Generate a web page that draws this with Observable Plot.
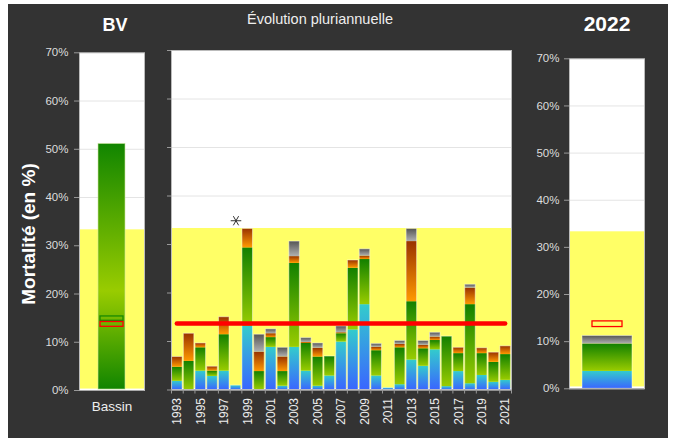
<!DOCTYPE html>
<html><head><meta charset="utf-8">
<script src="https://cdn.jsdelivr.net/npm/d3@7"></script>
<script src="https://cdn.jsdelivr.net/npm/@observablehq/plot@0.6"></script>
<style>
html,body{margin:0;padding:0;background:#fff;}
body{font-family:"Liberation Sans",Arial,Helvetica,sans-serif;}
#wrap{position:relative;width:675px;height:439px;overflow:hidden;background:#fff;}
#bg{position:absolute;left:8px;top:4px;width:660px;height:434px;background:#333;}
.panel{position:absolute;top:0;}
.title{position:absolute;color:#fff;text-align:center;line-height:1;white-space:nowrap;}
#ylab{position:absolute;color:#fff;font-weight:bold;font-size:19px;line-height:1;white-space:nowrap;transform:translate(-50%,-50%) rotate(-90deg);left:28px;top:234px;}
</style></head><body>
<div id="wrap">
  <div id="bg"></div>
  <div class="title" style="left:75px;width:80px;top:16px;font-size:18px;font-weight:bold">BV</div>
  <div class="title" style="left:220px;width:200px;top:12px;font-size:14.5px;color:#eee">Évolution pluriannuelle</div>
  <div class="title" style="left:567px;width:80px;top:13px;font-size:21px;font-weight:bold">2022</div>
  <div id="ylab">Mortalité (en %)</div>
  <div class="panel" id="pBV" style="left:0px"></div>
  <div class="panel" id="pMid" style="left:160px"></div>
  <div class="panel" id="p2022" style="left:522px"></div>
</div>
<script>
// ---- Data ----
const years = [1993,1994,1995,1996,1997,1998,1999,2000,2001,2002,2003,2004,2005,2006,2007,2008,2009,2010,2011,2012,2013,2014,2015,2016,2017,2018,2019,2020,2021];
const blue   = [1.8,0.0,3.9,2.8,3.9,0.9,13.1,0.0,8.8,0.8,8.8,3.9,0.8,2.9,9.9,12.4,17.6,2.9,0.4,1.1,6.2,4.9,8.3,0.7,3.8,1.3,3.0,1.6,2.0];
const green  = [2.9,5.9,4.8,1.1,7.5,0.0,16.2,3.8,2.0,3.0,17.3,5.7,6.0,4.0,1.7,12.7,9.3,5.2,0.0,7.6,12.0,3.6,1.9,10.3,3.7,16.3,4.5,4.1,5.3];
const orange = [2.1,5.7,0.9,0.9,3.6,0.0,3.9,4.0,0.8,3.0,1.4,0.2,1.8,0.0,0.2,1.6,0.7,0.7,0.0,0.7,12.4,0.7,0.7,0.0,1.2,3.4,1.1,2.0,1.7];
const gray   = [0.0,0.0,0.0,0.0,0.0,0.0,0.0,3.6,0.9,1.9,3.1,0.9,1.0,0.0,1.3,0.0,1.4,0.7,0.0,0.7,2.6,0.9,0.9,0.0,0.0,0.7,0.0,0.0,0.0];
const cats = ["bleu","vert","orange","gris"];
const labelYears = [1993,1995,1997,1999,2001,2003,2005,2007,2009,2011,2013,2015,2017,2019,2021];
const yTicks = [0,10,20,30,40,50,60,70];
const gridTicks = [10,20,30,40,50,60];
const seuil = 33.3;          // zone jaune
const moyenne = 13.7;        // ligne rouge
const asterisk = [{year: 1998, value: 34.9}];
const bvLabel = "Bassin";
const bvTotal = 51.1;
const bvGreenMark = 14.9;
const bvRedMark = 13.7;
const label2022 = "2022";
const v2022 = [3.7, 5.8, 0.0, 1.7];

// tables built from the arrays
const series = [blue, green, orange, gray];
const table = years.flatMap((yr, i) => cats.map((c, j) => ({year: yr, cat: c, value: series[j][i]})));
const totals = years.map((yr, i) => ({year: yr, total: series.reduce((s, a) => s + a[i], 0)}));
const bounds = years.map(y => y - 0.5).concat([years[years.length - 1] + 0.5]);
const table2022 = cats.map((c, j) => ({x: label2022, cat: c, value: v2022[j]}));

const FONT = '"Liberation Sans",Arial,Helvetica,sans-serif';
const gradStops = {
  bleu:   [["0%", "#3a66ff"], ["100%", "#33cccc"]],
  vert:   [["0%", "#99cc00"], ["100%", "#128000"]],
  orange: [["0%", "#ff9900"], ["100%", "#993300"]],
  gris:   [["0%", "#b0b0b0"], ["100%", "#555555"]],
  bv:     [["0%", "#118500"], ["40%", "#99cc00"], ["100%", "#118500"]]
};
function addDefs(svg, prefix) {
  const defs = d3.select(svg).insert("defs", ":first-child");
  for (const [k, stops] of Object.entries(gradStops)) {
    const g = defs.append("linearGradient").attr("id", prefix + k)
      .attr("x1", 0).attr("y1", 1).attr("x2", 0).attr("y2", 0);
    for (const [o, c] of stops) g.append("stop").attr("offset", o).attr("stop-color", c);
  }
  return svg;
}
const colorFor = prefix => ({domain: cats, range: cats.map(c => `url(#${prefix}${c})`)});
const baseStyle = {background: "transparent", fontFamily: FONT, color: "#ddd", overflow: "visible"};

// ---- BV panel ----
const bv = Plot.plot({
  width: 160, height: 439,
  marginLeft: 79, marginRight: 16, marginTop: 52.3, marginBottom: 49,
  style: baseStyle,
  x: {domain: [bvLabel], padding: 0.413},
  y: {domain: [0, 70]},
  marks: [
    Plot.frame({fill: "white", stroke: "none"}),
    Plot.gridY(gridTicks, {stroke: "#e4e4e4", strokeOpacity: 1}),
    Plot.rect([seuil], {y1: 0.3, y2: d => d, fill: "#ffff66"}),
    Plot.barY([bvTotal], {x: () => bvLabel, y1: 0.2, y2: d => d, fill: "url(#b-bv)", stroke: "#cfe6a0", strokeOpacity: 0.6}),
    Plot.barY([bvGreenMark], {x: () => bvLabel, y1: d => d - 0.45, y2: d => d + 0.45, insetLeft: 2, insetRight: 2, fill: "none", stroke: "#1a8a00", strokeWidth: 1.3}),
    Plot.barY([bvRedMark], {x: () => bvLabel, y1: d => d - 0.5, y2: d => d + 0.5, insetLeft: 2, insetRight: 2, fill: "none", stroke: "#ff0000", strokeWidth: 1.3}),
    Plot.frame({stroke: "#bbbbbb", fill: "none"}),
    Plot.ruleY([0], {stroke: "#aaaaaa"}),
    Plot.axisY(yTicks, {tickSize: 5, tickPadding: 6, tickFormat: d => d + "%", fontSize: 11.5, fill: "#dddddd", stroke: "#999999", label: null}),
    Plot.axisX([bvLabel], {tickSize: 0, tickPadding: 11, fontSize: 13.5, fill: "#eeeeee", label: null})
  ]
});
document.getElementById("pBV").appendChild(addDefs(bv, "b-"));

// ---- Multi-year panel ----
const mid = Plot.plot({
  width: 362, height: 439,
  marginLeft: 11, marginRight: 11, marginTop: 50, marginBottom: 49.5,
  style: baseStyle,
  x: {domain: [years[0] - 0.5, years[years.length - 1] + 0.5]},
  y: {domain: [0, 70]},
  color: colorFor("m-"),
  marks: [
    Plot.frame({fill: "white", stroke: "none"}),
    Plot.gridY(gridTicks, {stroke: "#e4e4e4", strokeOpacity: 1}),
    Plot.rect([seuil], {y1: 0.3, y2: d => d, fill: "#ffff66"}),
    Plot.rectY(table, Plot.stackY({x1: d => d.year - 0.5, x2: d => d.year + 0.5, y: "value", fill: "cat", insetLeft: 0.6, insetRight: 0.6})),
    Plot.rectY(totals, {x1: d => d.year - 0.5, x2: d => d.year + 0.5, y: "total", fill: "none", stroke: "#ffffff", strokeOpacity: 0.45, insetLeft: 0.6, insetRight: 0.6}),
    Plot.ruleY([moyenne], {x1: years[0], x2: years[years.length - 1], stroke: "#ff0000", strokeWidth: 4.5, strokeLinecap: "round"}),
    Plot.dot(asterisk, {x: "year", y: "value", symbol: "asterisk", r: 5, stroke: "#333333", strokeWidth: 1, rotate: 90}),
    Plot.frame({stroke: "#bbbbbb", fill: "none"}),
    Plot.ruleY([0], {stroke: "#aaaaaa"}),
    Plot.axisY(yTicks, {tickSize: 4, tickFormat: () => "", stroke: "#999999", label: null}),
    Plot.axisX(bounds, {tickSize: 4, tickFormat: () => "", stroke: "#999999", label: null}),
    Plot.axisX(labelYears, {tickSize: 0, tickPadding: 8, tickRotate: -90, fontSize: 12, fill: "#eeeeee", tickFormat: d => String(d), label: null})
  ]
});
document.getElementById("pMid").appendChild(addDefs(mid, "m-"));

// ---- 2022 panel ----
const p22 = Plot.plot({
  width: 153, height: 439,
  marginLeft: 47, marginRight: 31, marginTop: 58.3, marginBottom: 50.7,
  style: baseStyle,
  x: {domain: [label2022], padding: 0.2},
  y: {domain: [0, 70]},
  color: colorFor("r-"),
  marks: [
    Plot.frame({fill: "white", stroke: "none"}),
    Plot.gridY(gridTicks, {stroke: "#e4e4e4", strokeOpacity: 1}),
    Plot.rect([seuil], {y1: 0.4, y2: d => d, fill: "#ffff66"}),
    Plot.barY(table2022, {x: "x", y: "value", fill: "cat"}),
    Plot.barY([v2022.reduce((a, b) => a + b, 0)], {x: () => label2022, y: d => d, fill: "none", stroke: "#ffffff", strokeOpacity: 0.45}),
    Plot.barY([moyenne], {x: () => label2022, y1: d => d - 0.6, y2: d => d + 0.6, insetLeft: 10, insetRight: 10, fill: "none", stroke: "#ff0000", strokeWidth: 1.3}),
    Plot.frame({stroke: "#bbbbbb", fill: "none"}),
    Plot.ruleY([0], {stroke: "#aaaaaa"}),
    Plot.axisY(yTicks, {tickSize: 5, tickPadding: 5, tickFormat: d => d + "%", fontSize: 11.5, fill: "#dddddd", stroke: "#999999", label: null}),
    Plot.axisX([label2022], {tickSize: 0, tickFormat: () => "", label: null})
  ]
});
document.getElementById("p2022").appendChild(addDefs(p22, "r-"));
</script>
</body></html>
